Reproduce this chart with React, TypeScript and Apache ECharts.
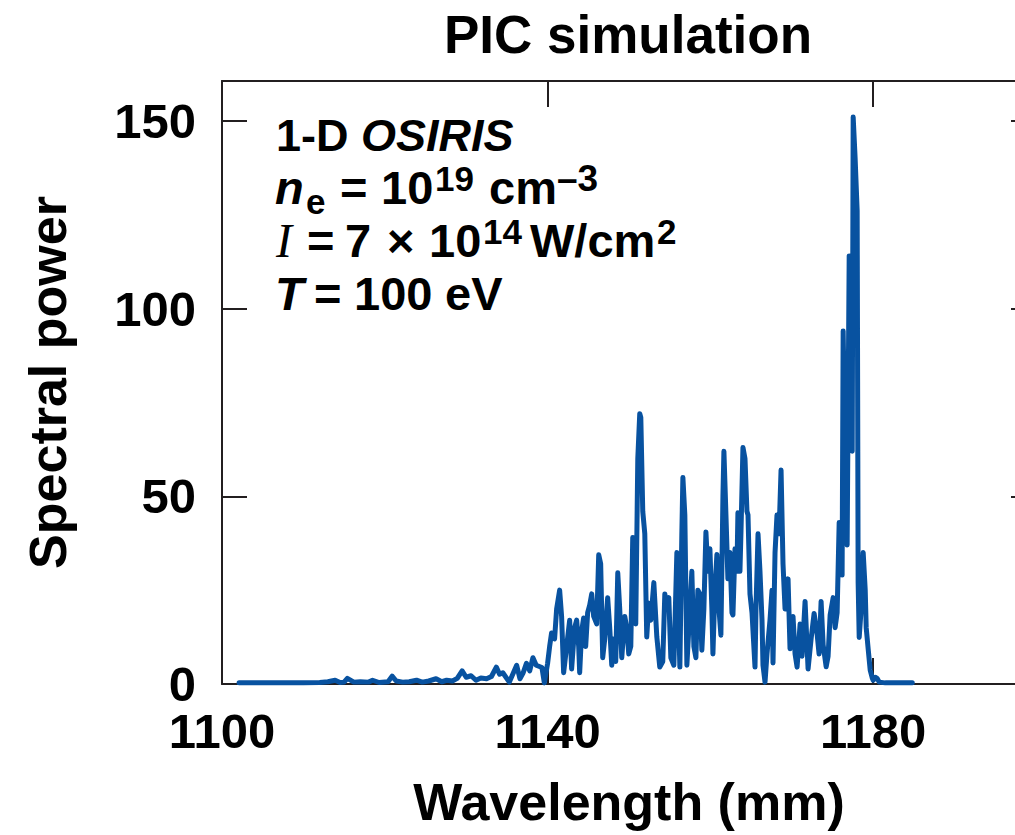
import React, { useEffect, useRef } from "react";
import * as echarts from "echarts";

// ---- data (wavelength, spectral power) ----
const lowTail: [number, number][] = [
  [1102.1, 0.3], [1104, 0.3], [1106, 0.3], [1108, 0.3], [1110, 0.3], [1112, 0.4],
  [1113, 0.6], [1113.9, 1.0], [1114.5, 0.4], [1115, 0.5], [1115.4, 1.5], [1116.2, 0.5],
  [1117, 0.6], [1118, 0.5], [1118.5, 1.0], [1119.3, 0.4], [1120.4, 0.6], [1120.9, 2.1],
  [1121.4, 0.8], [1122.2, 0.5], [1123, 0.6], [1123.9, 1.0], [1124.6, 0.5], [1125.4, 0.8],
  [1126.3, 1.4], [1127, 0.6], [1127.6, 1.0], [1128.3, 0.8], [1128.9, 1.5], [1129.5, 3.5],
  [1130.0, 1.8], [1130.6, 2.2], [1131.2, 1.0], [1131.8, 1.6], [1132.5, 1.4], [1133.1, 2.0],
  [1133.7, 4.5], [1134.1, 2.6], [1134.5, 3.0], [1135.3, 0.5], [1136.2, 5.0], [1136.6, 1.4],
  [1137.0, 3.0], [1137.4, 5.5], [1137.8, 3.5], [1138.2, 7.0], [1138.6, 5.0], [1139.3, 4.4],
  [1139.6, 0.3],
];

const mainBand: [number, number][] = [
  [1140.0, 5.5], [1140.25, 10], [1140.49, 13.6], [1140.86, 12], [1141.11, 20], [1141.48, 25],
  [1141.72, 18], [1141.97, 3], [1142.34, 10], [1142.71, 17], [1142.95, 4], [1143.32, 15],
  [1143.57, 17], [1143.82, 10], [1143.94, 3], [1144.18, 14], [1144.43, 17.6], [1144.68, 10],
  [1144.92, 19], [1145.17, 21], [1145.42, 24], [1145.66, 18], [1146.03, 16], [1146.28, 34.4],
  [1146.52, 32], [1146.77, 7], [1147.02, 12], [1147.38, 23], [1147.63, 15], [1147.88, 5],
  [1148.12, 12], [1148.37, 6], [1148.62, 29.6], [1148.86, 20], [1149.11, 7], [1149.48, 18],
  [1149.72, 15], [1149.97, 8], [1150.22, 10], [1150.46, 39], [1150.71, 38], [1150.83, 16],
  [1151.08, 60], [1151.32, 72], [1151.45, 71], [1151.69, 46], [1151.94, 40], [1152.18, 12.5],
  [1152.43, 21.5], [1152.68, 17], [1153.05, 27], [1153.42, 12.5], [1153.78, 4.5], [1154.15, 6],
  [1154.4, 24], [1154.65, 20], [1154.89, 23], [1155.14, 7], [1155.51, 5], [1155.88, 35],
  [1156.12, 15], [1156.25, 4.5], [1156.49, 40], [1156.62, 55], [1156.86, 45], [1157.11, 5],
  [1157.48, 20], [1157.72, 30], [1157.97, 10], [1158.22, 7], [1158.46, 25], [1158.71, 24],
  [1158.95, 9], [1159.2, 20], [1159.45, 40.5], [1159.69, 30], [1159.94, 36], [1160.18, 20],
  [1160.31, 8], [1160.55, 25], [1160.8, 34.5], [1161.05, 20], [1161.29, 13], [1161.54, 50],
  [1161.66, 62], [1161.91, 45], [1162.15, 28], [1162.4, 35], [1162.65, 19], [1162.77, 18.4],
  [1163.02, 36], [1163.26, 30], [1163.38, 45.6], [1163.63, 30], [1163.75, 40], [1164.0, 63],
  [1164.25, 60], [1164.49, 46], [1164.62, 45], [1164.86, 24], [1165.11, 19], [1165.48, 4.5],
  [1165.6, 20], [1165.85, 40], [1166.09, 30], [1166.34, 17], [1166.46, 5], [1166.71, 0.5],
  [1166.95, 8], [1167.32, 17], [1167.57, 25], [1167.69, 5.6], [1167.94, 35], [1168.18, 45],
  [1168.43, 40], [1168.68, 57], [1168.92, 32], [1169.17, 20], [1169.54, 28], [1169.78, 9.4],
  [1170.15, 18], [1170.4, 8], [1170.65, 4.5], [1171.02, 16], [1171.26, 7.4], [1171.63, 22],
  [1172.0, 4], [1172.37, 12], [1172.74, 18.8], [1173.11, 13.3], [1173.35, 8], [1173.6, 22],
  [1173.85, 10.4], [1174.22, 4.6], [1174.46, 7.4], [1174.71, 18.4], [1175.08, 23], [1175.32, 15],
  [1175.57, 19],
];

const peakRegion: [number, number][] = [
  [1175.82, 43], [1176.06, 35], [1176.18, 29], [1176.31, 94], [1176.55, 60], [1176.8, 37],
  [1177.05, 114], [1177.17, 110], [1177.42, 62], [1177.54, 151], [1177.78, 140], [1178.03, 126],
  [1178.15, 27], [1178.28, 12.4], [1178.52, 20], [1178.77, 35], [1179.02, 25], [1179.14, 15],
  [1179.38, 9.4], [1179.63, 3.7], [1179.88, 1.6], [1180.0, 1], [1180.25, 1.8], [1180.49, 1.5],
  [1180.74, 0.5], [1181.48, 0.3], [1183.32, 0.3], [1184.8, 0.3],
];

const xTicks = [1100, 1140, 1180];
const yTicks = [0, 50, 100, 150];

const SANS = "'Liberation Sans', Arial, Helvetica, sans-serif";
const SERIF = "'Liberation Serif', 'Times New Roman', serif";
const FRAME = "#231f20";
const LINE = "#0852a0";

// annotation: text pieces with their left edge (at) and baseline shift (dy)
type Seg = {
  t: string;
  at: number;
  size?: number;
  italic?: boolean;
  serif?: boolean;
  weight?: string;
  dy?: number;
};

const noteLines: Seg[][] = [
  [
    { t: "1-D", at: 276, size: 45 },
    { t: "OSIRIS", at: 361, size: 45, italic: true },
  ],
  [
    { t: "n", at: 275, italic: true },
    { t: "e", at: 306, size: 35, dy: 10 },
    { t: "=", at: 340 },
    { t: "10", at: 381 },
    { t: "19", at: 435, size: 35, dy: -13 },
    { t: "cm", at: 489 },
    { t: "\u20133", at: 557, size: 37, dy: -13 },
  ],
  [
    { t: "I", at: 276, italic: true, serif: true, size: 48, weight: "normal" },
    { t: "=", at: 307 },
    { t: "7", at: 345 },
    { t: "\u00d7", at: 387 },
    { t: "10", at: 429 },
    { t: "14", at: 483, size: 35, dy: -13 },
    { t: "W/cm", at: 530 },
    { t: "2", at: 657, size: 35, dy: -13 },
  ],
  [
    { t: "T", at: 275, italic: true },
    { t: "=", at: 314 },
    { t: "100", at: 354 },
    { t: "eV", at: 445 },
  ],
];

const NOTE_BASELINES = [151, 204, 257, 310];
const NOTE_SIZE = 47;

function buildNote(): any[] {
  const els: any[] = [];
  noteLines.forEach((line, i) => {
    line.forEach((seg) => {
      const size = seg.size ?? NOTE_SIZE;
      const family = seg.serif ? SERIF : SANS;
      const fstyle = seg.italic ? "italic" : "normal";
      const weight = seg.weight ?? "bold";
      const baseline = NOTE_BASELINES[i] + (seg.dy ?? 0);
      els.push({
        type: "text",
        x: seg.at,
        y: baseline - 0.3465 * size,
        style: {
          text: seg.t,
          fontSize: size,
          fontFamily: family,
          fontStyle: fstyle,
          fontWeight: weight,
          lineHeight: Math.round(size * 0.8),
          fill: "#000",
          align: "left",
          verticalAlign: "middle",
        },
      });
    });
  });
  return els;
}

const CHART_W = 1040;

export default function App() {
  const ref = useRef<HTMLDivElement>(null);

  useEffect(() => {
    document.body.style.margin = "0";
    if (!ref.current) return;
    const chart = echarts.init(ref.current, undefined, { renderer: "svg" });
    const spectrum = [...lowTail, ...mainBand, ...peakRegion];

    const axisLineStyle = { show: true, onZero: false, lineStyle: { color: FRAME, width: 2 } };
    const tickLabelStyle = {
      fontSize: 49,
      fontWeight: "bold",
      fontFamily: SANS,
      color: "#000",
      lineHeight: 38,
      formatter: (v: number) => String(v),
    };
    const nameStyle = { fontSize: 52, fontWeight: "bold", fontFamily: SANS, color: "#000" };
    const tickStyle = { color: FRAME, width: 2 };

    chart.setOption({
      animation: false,
      backgroundColor: "#ffffff",
      title: {
        text: "PIC simulation",
        left: 628,
        top: 8,
        textAlign: "center",
        padding: 0,
        textStyle: { fontSize: 53, fontWeight: "bold", fontFamily: SANS, color: "#000" },
      },
      grid: { left: 222, right: CHART_W - 1036, top: 81, bottom: 151, containLabel: false },
      xAxis: [
        {
          type: "value",
          position: "bottom",
          min: 1100,
          max: 1200,
          name: "Wavelength (mm)",
          nameLocation: "middle",
          nameGap: 92,
          nameTextStyle: nameStyle,
          axisLine: axisLineStyle,
          axisTick: { show: true, inside: true, length: 26, customValues: xTicks, lineStyle: tickStyle },
          axisLabel: { show: true, customValues: xTicks, margin: 28, ...tickLabelStyle },
          splitLine: { show: false },
        },
        {
          type: "value",
          position: "top",
          min: 1100,
          max: 1200,
          axisLine: axisLineStyle,
          axisTick: { show: true, inside: true, length: 26, customValues: xTicks, lineStyle: tickStyle },
          axisLabel: { show: false },
          splitLine: { show: false },
        },
      ],
      yAxis: [
        {
          type: "value",
          position: "left",
          min: 0,
          max: 160.6,
          interval: 50,
          name: "Spectral power",
          nameLocation: "middle",
          nameGap: 148,
          nameTextStyle: nameStyle,
          axisLine: axisLineStyle,
          axisTick: { show: true, inside: true, length: 25, customValues: yTicks, lineStyle: tickStyle },
          axisLabel: { show: true, customValues: yTicks, margin: 26, ...tickLabelStyle },
          splitLine: { show: false },
        },
        {
          type: "value",
          position: "right",
          min: 0,
          max: 160.6,
          interval: 50,
          axisLine: axisLineStyle,
          axisTick: { show: true, inside: true, length: 25, customValues: yTicks, lineStyle: tickStyle },
          axisLabel: { show: false },
          splitLine: { show: false },
        },
      ],
      series: [
        {
          type: "line",
          xAxisIndex: 0,
          yAxisIndex: 0,
          data: spectrum,
          symbol: "none",
          showSymbol: false,
          clip: true,
          lineStyle: { color: LINE, width: 5, join: "round", cap: "round" },
        },
      ],
      graphic: buildNote(),
    });

    return () => {
      chart.dispose();
    };
  }, []);

  return (
    <div style={{ width: 1015, height: 835, overflow: "hidden", position: "relative" }}>
      <div ref={ref} style={{ width: CHART_W, height: 835 }} />
    </div>
  );
}
